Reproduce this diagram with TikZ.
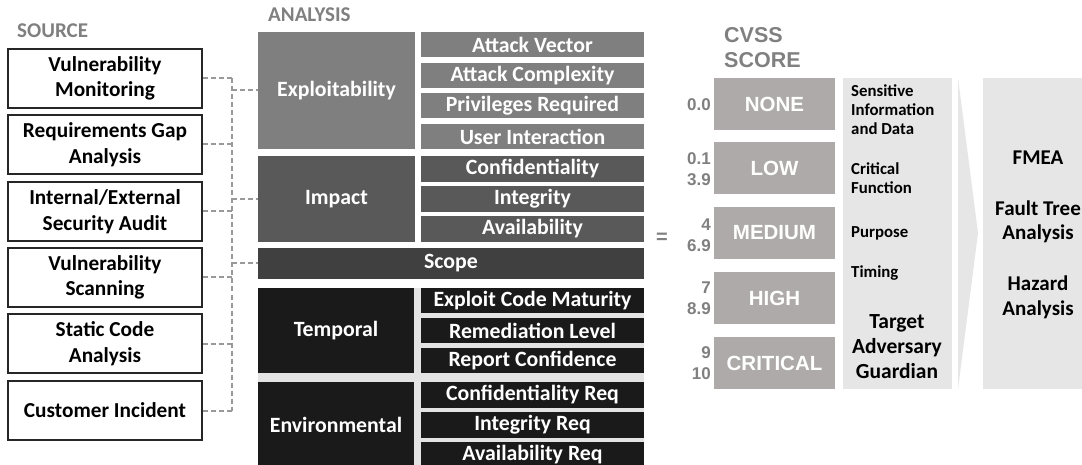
\documentclass[tikz,border=0pt]{standalone}
\usepackage{fontspec}
\setmainfont{Carlito}
\newfontfamily\arialf{Liberation Sans}
\definecolor{explc}{HTML}{7F7F7F}
\definecolor{impc}{HTML}{595959}
\definecolor{scopec}{HTML}{404040}
\definecolor{tempc}{HTML}{1A1A1A}
\definecolor{bglight}{HTML}{E3E3E3}
\definecolor{scoregray}{HTML}{AEAAAA}
\definecolor{panelgray}{HTML}{E7E6E6}
\definecolor{labgray}{HTML}{808080}
\definecolor{dashgray}{HTML}{999999}
\newcommand\rbox[7]{\node[#1, minimum width={#4-#2}, minimum height={#5-#3}] (#6) at ({(#2+#4)/2},{(#3+#5)/2}) {#7};}
\begin{document}
\begin{tikzpicture}[x=1pt,y=-1pt,
  srcbox/.style={draw=black!85, line width=1.6pt, fill=white, inner sep=0pt, align=center, text=black, font=\bfseries\fontsize{21.3}{25.5}\selectfont},
  blk/.style={fill=#1, text=white, inner sep=0pt, align=center, font=\bfseries\fontsize{21.8}{24}\selectfont},
  score/.style={fill=scoregray, text=white, inner sep=0pt, font=\arialf\bfseries\fontsize{20.5}{24}\selectfont},
  num/.style={text=labgray, font=\arialf\bfseries\fontsize{17}{21}\selectfont, align=right, anchor=east, inner sep=0pt},
  conn/.style={draw=dashgray, line width=2pt, dash pattern=on 5pt off 3pt},
  hdr/.style={text=labgray, inner sep=0pt, font=\bfseries\fontsize{21}{24}\selectfont},
  panel/.style={fill=panelgray, inner sep=0pt},
  ptext/.style={text=black, inner sep=0pt, align=left, anchor=west, font=\bfseries\fontsize{16.8}{19}\selectfont},
  btext/.style={text=black, inner sep=0pt, align=center, font=\bfseries\fontsize{21.5}{25}\selectfont}
]
\useasboundingbox (0,0) rectangle (1082,465);
\fill[white] (0,0) rectangle (1082,465);

% headers
\node[hdr, anchor=west] (hsrc) at (17,31) {SOURCE};
\node[hdr, anchor=west] (hana) at (268,15) {ANALYSIS};
\node[hdr, anchor=west, align=left, font=\arialf\bfseries\fontsize{21.5}{25}\selectfont] (hcvss) at (724,47.5) {CVSS\\SCORE};

% source boxes
\rbox{srcbox}{8}{49}{202}{108}{s1}{Vulnerability\\Monitoring}
\rbox{srcbox}{8}{115}{202}{174}{s2}{Requirements Gap\\Analysis}
\rbox{srcbox}{8}{182}{202}{241}{s3}{Internal/External\\Security Audit}
\rbox{srcbox}{8}{248}{202}{307}{s4}{Vulnerability\\Scanning}
\rbox{srcbox}{8}{314}{202}{373}{s5}{Static Code\\Analysis}
\rbox{srcbox}{8}{381}{202}{440}{s6}{Customer Incident}

% analysis
\fill[bglight] (258,288) rectangle (644,468);
\rbox{blk=explc}{258}{32}{415}{149}{expl}{Exploitability}
\rbox{blk=explc}{421}{32}{644}{57}{av}{Attack Vector}
\rbox{blk=explc}{421}{62.7}{644}{87.7}{ac}{Attack Complexity}
\rbox{blk=explc}{421}{93.3}{644}{118.3}{pr}{Privileges Required}
\rbox{blk=explc}{421}{124}{644}{149}{ui}{User Interaction}
\rbox{blk=impc}{258}{156}{415}{242}{imp}{Impact}
\rbox{blk=impc}{421}{156}{644}{182}{conf}{Confidentiality}
\rbox{blk=impc}{421}{186}{644}{212}{integ}{Integrity}
\rbox{blk=impc}{421}{216}{644}{242}{avail}{Availability}
\rbox{blk=scopec}{258}{248}{644}{279}{scope}{Scope}
\rbox{blk=tempc}{258}{288}{414}{373}{temp}{Temporal}
\rbox{blk=tempc}{421}{288}{644}{313}{ecm}{Exploit Code Maturity}
\rbox{blk=tempc}{421}{318}{644}{343}{rl}{Remediation Level}
\rbox{blk=tempc}{421}{348}{644}{373}{rc}{Report Confidence}
\rbox{blk=tempc}{258}{382}{414}{468}{env}{Environmental}
\rbox{blk=tempc}{421}{382}{644}{408}{cr}{Confidentiality Req}
\rbox{blk=tempc}{421}{412}{644}{438}{ir}{Integrity Req}
\rbox{blk=tempc}{421}{442}{644}{468}{ar}{Availability Req}

% connectors
\coordinate (bus) at (232,0);
\foreach \s in {s1,s2,s3,s4,s5,s6} \draw[conn] (\s.east) -- (\s.east -| bus);
\draw[conn] (s1.east -| bus) -- (s6.east -| bus);
\foreach \a in {expl,imp,scope} \draw[conn] (\a.west -| bus) -- (\a.west);

% equals
\node[text=labgray, inner sep=0pt, font=\arialf\bfseries\fontsize{20}{24}\selectfont] (eq) at (662,238) {=};

% scores
\rbox{score}{714}{78}{835}{130}{n0}{NONE}
\rbox{score}{714}{142}{835}{194}{n1}{LOW}
\rbox{score}{714}{207}{835}{259}{n2}{MEDIUM}
\rbox{score}{714}{272}{835}{324}{n3}{HIGH}
\rbox{score}{714}{337}{835}{389}{n4}{CRITICAL}
\node[num] (v0) at (711,105) {0.0};
\node[num] (v1) at (711,169) {0.1\\3.9};
\node[num] (v2) at (711,235) {4\\6.9};
\node[num] (v3) at (711,298) {7\\8.9};
\node[num] (v4) at (711,363) {9\\10};

% panel 1
\rbox{panel}{843}{78}{952}{389}{p1}{}
\node[ptext] (t1) at (851,110) {Sensitive\\Information\\and Data};
\node[ptext] (t2) at (851,178) {Critical\\Function};
\node[ptext] (t3) at (851,233) {Purpose};
\node[ptext] (t4) at (851,273) {Timing};
\node[btext] (t5) at (897,347) {Target\\Adversary\\Guardian};

% chevron
\fill[panelgray] (958,78) -- (978,233) -- (958,389) -- cycle;

% panel 2
\rbox{panel}{983}{78}{1090}{389}{p2}{}
\node[btext, font=\bfseries\fontsize{21}{24.5}\selectfont] (f1) at (1038,158) {FMEA};
\node[btext, font=\bfseries\fontsize{21}{24.5}\selectfont] (f2) at (1038,222) {Fault Tree\\Analysis};
\node[btext, font=\bfseries\fontsize{21}{24.5}\selectfont] (f3) at (1038,297.5) {Hazard\\Analysis};
\end{tikzpicture}
\end{document}
